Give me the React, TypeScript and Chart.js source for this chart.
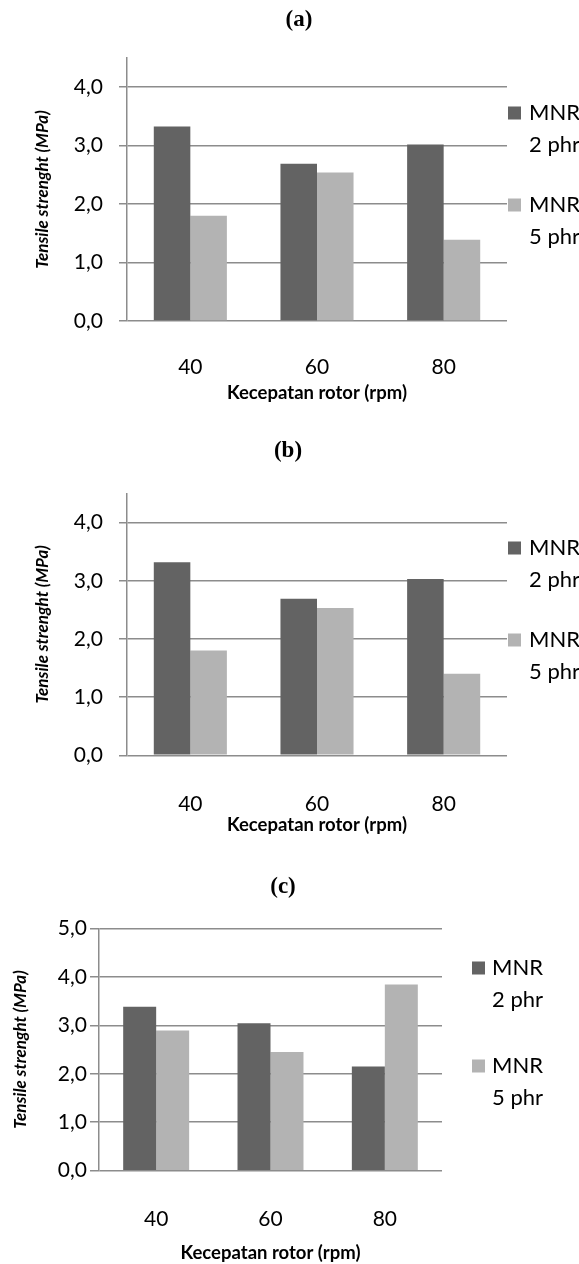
import React, { useEffect, useRef } from "react";
import { Chart, registerables } from "chart.js";

Chart.register(...registerables);

// ---------- data ----------
const categories = ["40", "60", "80"];
const seriesLabels = [
  ["MNR", "2 phr"],
  ["MNR", "5 phr"],
];
const panelTitles = ["(a)", "(b)", "(c)"];
const xAxisTitle = "Kecepatan rotor (rpm)";
const yAxisTitle = "Tensile strenght (MPa)";

const aMNR2 = [3.33, 2.69, 3.02];
const aMNR5 = [1.8, 2.54, 1.39];
const bMNR2 = [3.32, 2.69, 3.03];
const bMNR5 = [1.8, 2.53, 1.4];
const cMNR2 = [3.38, 3.04, 2.15];
const cMNR5 = [2.89, 2.45, 3.84];

const yMaxAB = 4.5;
const yMaxC = 5;
const yStep = 1;

// ---------- styles ----------
const seriesColors = ["#636363", "#b3b3b3"];
const gridColor = "#8c8c8c";
const FONT = "Lato, 'Open Sans', sans-serif";

type Layout = {
  top: number;
  h: number;
  left: number;
  right: number;
  areaTop: number;
  areaBottom: number;
  yTickPad: number;
  tickLen: number;
  yTitlePad: number;
  xTickPad: number;
  xTitlePad: number;
  legSquareX: number;
  legTextX: number;
  legRows: number[];
  titleX: number;
  titleY: number;
};

const layouts: Layout[] = [
  {
    top: 0, h: 420, left: 127, right: 507, areaTop: 58, areaBottom: 321,
    yTickPad: 16, tickLen: 8, yTitlePad: 32, xTickPad: 26, xTitlePad: 16,
    legSquareX: 508, legTextX: 529, legRows: [113, 205], titleX: 299, titleY: 20,
  },
  {
    top: 420, h: 420, left: 127, right: 507, areaTop: 73.5, areaBottom: 335.3,
    yTickPad: 16, tickLen: 8, yTitlePad: 32, xTickPad: 28.5, xTitlePad: 4,
    legSquareX: 508, legTextX: 529, legRows: [128, 220], titleX: 288, titleY: 31,
  },
  {
    top: 840, h: 424, left: 99, right: 442, areaTop: 88.3, areaBottom: 330.7,
    yTickPad: 3, tickLen: 9, yTitlePad: 10, xTickPad: 28, xTitlePad: 0,
    legSquareX: 472, legTextX: 492, legRows: [128, 226], titleX: 283, titleY: 47,
  },
];

const panelSeries = [
  [aMNR2, aMNR5],
  [bMNR2, bMNR5],
  [cMNR2, cMNR5],
];
const panelMax = [yMaxAB, yMaxAB, yMaxC];

const decorPlugin = {
  id: "panelDecor",
  afterDraw(chart: any, _args: any, opts: any) {
    const ctx = chart.ctx;
    const L: Layout = opts.layout;
    ctx.save();
    // panel title
    ctx.fillStyle = "#000";
    ctx.font = "bold 23px 'Liberation Serif', 'Times New Roman', serif";
    ctx.textAlign = "center";
    ctx.textBaseline = "middle";
    ctx.fillText(opts.title, L.titleX, L.titleY);
    // legend
    const size = 13;
    ctx.font = `22px ${FONT}`;
    ctx.textAlign = "left";
    chart.data.datasets.forEach((ds: any, i: number) => {
      const y = L.legRows[i];
      ctx.fillStyle = ds.backgroundColor;
      ctx.fillRect(L.legSquareX, y - size / 2, size, size);
      ctx.fillStyle = "#000";
      const lines: string[] = ds.legendLines;
      lines.forEach((t, k) => ctx.fillText(t, L.legTextX, y + k * 32));
    });
    ctx.restore();
  },
};

function Panel({ idx }: { idx: number }) {
  const ref = useRef<HTMLCanvasElement | null>(null);
  const L = layouts[idx];
  useEffect(() => {
    if (!ref.current) return;
    const chart = new Chart(ref.current, {
      type: "bar",
      data: {
        labels: categories,
        datasets: panelSeries[idx].map((vals, i) => ({
          label: seriesLabels[i].join(" "),
          legendLines: seriesLabels[i],
          data: vals,
          backgroundColor: seriesColors[i],
          borderWidth: 0,
          categoryPercentage: 0.577,
          barPercentage: 1.0,
        })) as any,
      },
      options: {
        responsive: false,
        animation: false,
        layout: {
          padding: { top: L.areaTop, right: 579 - L.right, left: 0, bottom: 0 },
        },
        plugins: {
          legend: { display: false },
          tooltip: { enabled: false },
          title: { display: false },
          panelDecor: { layout: L, title: panelTitles[idx] },
        } as any,
        scales: {
          x: {
            grid: { display: false },
            border: { display: false },
            ticks: {
              color: "#000",
              font: { family: FONT, size: 21 },
              padding: L.xTickPad,
            },
            title: {
              display: true,
              text: xAxisTitle,
              color: "#000",
              font: { family: FONT, size: 18.5, weight: "bold" },
              padding: { top: 0, bottom: L.xTitlePad },
            },
            afterFit: (s: any) => {
              s.height = L.h - L.areaBottom;
            },
          },
          y: {
            min: 0,
            max: panelMax[idx],
            grid: {
              color: gridColor,
              lineWidth: 1.5,
              tickLength: L.tickLen,
              tickColor: gridColor,
              tickWidth: 1.5,
            },
            border: { display: true, color: gridColor, width: 1.5 },
            ticks: {
              stepSize: yStep,
              includeBounds: false,
              color: "#000",
              font: { family: FONT, size: 21 },
              padding: L.yTickPad,
              callback: (v: any) => Number(v).toFixed(1).replace(".", ","),
            },
            title: {
              display: true,
              text: yAxisTitle,
              color: "#000",
              font: { family: FONT, size: 17, weight: "bold", style: "italic" },
              padding: { top: L.yTitlePad, bottom: 0 },
            },
            afterFit: (s: any) => {
              s.width = L.left;
            },
          },
        },
      },
      plugins: [decorPlugin],
    });
    return () => chart.destroy();
  }, [idx]);
  return (
    <canvas
      ref={ref}
      width={579}
      height={L.h}
      style={{ position: "absolute", left: 0, top: L.top, width: 579, height: L.h }}
    />
  );
}

export default function App() {
  return (
    <div
      style={{
        position: "absolute",
        left: 0,
        top: 0,
        width: 579,
        height: 1264,
        overflow: "hidden",
        background: "#fff",
      }}
    >
      {layouts.map((_, i) => (
        <Panel key={i} idx={i} />
      ))}
    </div>
  );
}
